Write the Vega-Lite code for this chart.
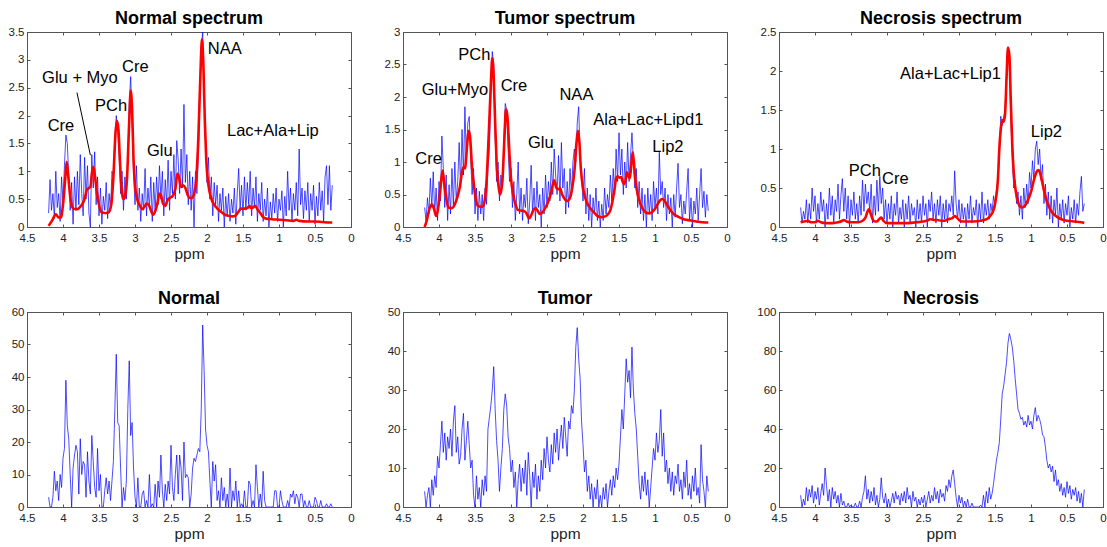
{
"$schema": "https://vega.github.io/schema/vega-lite/v6.json",
"padding": {"left": 7, "top": 9, "right": 2, "bottom": 2},
"background": "white",
"config": {
  "view": {"stroke": "#555"},
  "title": {"font": "Liberation Sans", "fontSize": 18, "fontWeight": "bold", "color": "#000", "offset": -2},
  "axis": {"grid": false, "tickSize": -3, "domainColor": "#555", "tickColor": "#555", "labelFont": "Liberation Sans", "labelFontSize": 11.5, "labelColor": "#222", "titleFont": "Liberation Sans", "titleFontSize": 15.5, "titleFontWeight": "normal", "titleColor": "#222", "labelFlush": false, "labelOverlap": false},
  "axisX": {"labelPadding": 8, "titlePadding": 3},
  "axisY": {"labelPadding": 6},
  "text": {"font": "Liberation Sans", "fontSize": 16.5, "color": "#000"}
},
"datasets": {
"a": [{"x":4.2,"y":0.25},{"x":4.18,"y":0.85},{"x":4.16,"y":0.3},{"x":4.14,"y":0.6},{"x":4.12,"y":0.15},{"x":4.1,"y":1},{"x":4.08,"y":0.35},{"x":4.06,"y":0.6},{"x":4.04,"y":0.1},{"x":4.02,"y":0.9},
{"x":4,"y":0.45},{"x":3.98,"y":1.1},{"x":3.96,"y":1.65},{"x":3.94,"y":1.5},{"x":3.92,"y":0.9},{"x":3.9,"y":0.3},{"x":3.88,"y":0.8},{"x":3.86,"y":0.05},{"x":3.84,"y":0.9},{"x":3.82,"y":0.3},
{"x":3.8,"y":1},{"x":3.78,"y":0.4},{"x":3.76,"y":1.3},{"x":3.74,"y":0.6},{"x":3.72,"y":0.2},{"x":3.7,"y":1.25},{"x":3.68,"y":0.5},{"x":3.66,"y":1.1},{"x":3.64,"y":0.25},{"x":3.62,"y":0},
{"x":3.6,"y":1.3},{"x":3.58,"y":0.7},{"x":3.56,"y":1.35},{"x":3.54,"y":0.4},{"x":3.52,"y":0.9},{"x":3.5,"y":0.2},{"x":3.48,"y":0.7},{"x":3.46,"y":0.05},{"x":3.44,"y":0.55},{"x":3.42,"y":0.3},
{"x":3.4,"y":0.8},{"x":3.38,"y":0.15},{"x":3.36,"y":0.6},{"x":3.34,"y":0.3},{"x":3.32,"y":1},{"x":3.3,"y":0.9},{"x":3.28,"y":1.6},{"x":3.26,"y":2},{"x":3.24,"y":1.7},{"x":3.22,"y":1.3},
{"x":3.2,"y":0.6},{"x":3.18,"y":1},{"x":3.16,"y":0.3},{"x":3.14,"y":0.9},{"x":3.12,"y":0.5},{"x":3.1,"y":1.2},{"x":3.08,"y":2.2},{"x":3.06,"y":2.7},{"x":3.04,"y":1.9},{"x":3.02,"y":1},
{"x":3,"y":0.4},{"x":2.98,"y":1.1},{"x":2.96,"y":0.3},{"x":2.94,"y":0.7},{"x":2.92,"y":0.1},{"x":2.9,"y":0.6},{"x":2.88,"y":0.3},{"x":2.86,"y":1.05},{"x":2.84,"y":0.2},{"x":2.82,"y":0.7},
{"x":2.8,"y":0.35},{"x":2.78,"y":0.9},{"x":2.76,"y":0.1},{"x":2.74,"y":0.8},{"x":2.72,"y":0.3},{"x":2.7,"y":0.9},{"x":2.68,"y":0.4},{"x":2.66,"y":1.1},{"x":2.64,"y":0.5},{"x":2.62,"y":1},
{"x":2.6,"y":0.2},{"x":2.58,"y":0.85},{"x":2.56,"y":0.4},{"x":2.54,"y":1.2},{"x":2.52,"y":0.3},{"x":2.5,"y":1},{"x":2.48,"y":0.6},{"x":2.46,"y":1.3},{"x":2.44,"y":0.5},{"x":2.42,"y":1.55},
{"x":2.4,"y":1.2},{"x":2.38,"y":0.6},{"x":2.36,"y":1.4},{"x":2.34,"y":0.7},{"x":2.32,"y":2.2},{"x":2.3,"y":0.8},{"x":2.28,"y":1.3},{"x":2.26,"y":0.4},{"x":2.24,"y":1},{"x":2.22,"y":0.3},
{"x":2.2,"y":0.9},{"x":2.18,"y":0},{"x":2.16,"y":1},{"x":2.14,"y":0.6},{"x":2.12,"y":1.3},{"x":2.1,"y":2.2},{"x":2.08,"y":3.2},{"x":2.06,"y":3.5},{"x":2.04,"y":2.4},{"x":2.02,"y":1.5},
{"x":2,"y":0.8},{"x":1.98,"y":1.25},{"x":1.96,"y":0.5},{"x":1.94,"y":0.9},{"x":1.92,"y":0.2},{"x":1.9,"y":0.8},{"x":1.88,"y":0.4},{"x":1.86,"y":0.75},{"x":1.84,"y":0.1},{"x":1.82,"y":0.6},
{"x":1.8,"y":0.3},{"x":1.78,"y":0.7},{"x":1.76,"y":0},{"x":1.74,"y":0.55},{"x":1.72,"y":0.2},{"x":1.7,"y":0.6},{"x":1.68,"y":0.1},{"x":1.66,"y":0.5},{"x":1.64,"y":0.25},{"x":1.62,"y":0.7},
{"x":1.6,"y":0.05},{"x":1.58,"y":0.6},{"x":1.56,"y":1.05},{"x":1.54,"y":0.3},{"x":1.52,"y":0.75},{"x":1.5,"y":0.2},{"x":1.48,"y":0.9},{"x":1.46,"y":0.3},{"x":1.44,"y":0.8},{"x":1.42,"y":0.4},
{"x":1.4,"y":1},{"x":1.38,"y":0.2},{"x":1.36,"y":0.7},{"x":1.34,"y":0.35},{"x":1.32,"y":0.9},{"x":1.3,"y":0.1},{"x":1.28,"y":0.6},{"x":1.26,"y":0.3},{"x":1.24,"y":0.8},{"x":1.22,"y":0.1},
{"x":1.2,"y":0.5},{"x":1.18,"y":0.2},{"x":1.16,"y":0.7},{"x":1.14,"y":0},{"x":1.12,"y":0.45},{"x":1.1,"y":0.15},{"x":1.08,"y":0.6},{"x":1.06,"y":0.25},{"x":1.04,"y":0.7},{"x":1.02,"y":0.1},
{"x":1,"y":0.5},{"x":0.98,"y":0.3},{"x":0.96,"y":0.65},{"x":0.94,"y":0},{"x":0.92,"y":0.55},{"x":0.9,"y":0.2},{"x":0.88,"y":1},{"x":0.86,"y":0.3},{"x":0.84,"y":0.7},{"x":0.82,"y":0.1},
{"x":0.8,"y":0.6},{"x":0.78,"y":0.3},{"x":0.76,"y":0.8},{"x":0.74,"y":0.2},{"x":0.72,"y":1.4},{"x":0.7,"y":0.4},{"x":0.68,"y":0.7},{"x":0.66,"y":0.15},{"x":0.64,"y":0.65},{"x":0.62,"y":0.3},
{"x":0.6,"y":0.8},{"x":0.58,"y":0.1},{"x":0.56,"y":0.6},{"x":0.54,"y":0.3},{"x":0.52,"y":0.75},{"x":0.5,"y":0.05},{"x":0.48,"y":0.55},{"x":0.46,"y":0.2},{"x":0.44,"y":0.8},{"x":0.42,"y":0.3},
{"x":0.4,"y":0.65},{"x":0.38,"y":0.1},{"x":0.36,"y":0.9},{"x":0.34,"y":1.1},{"x":0.32,"y":0.4},{"x":0.3,"y":1.1},{"x":0.28,"y":0.3},{"x":0.26,"y":0.75}],
"b": [{"x":4.2,"y":0.3},{"x":4.18,"y":0.1},{"x":4.16,"y":0.45},{"x":4.14,"y":0.2},{"x":4.12,"y":0.75},{"x":4.1,"y":0.3},{"x":4.08,"y":0.85},{"x":4.06,"y":0.2},{"x":4.04,"y":0.6},{"x":4.02,"y":0.1},
{"x":4,"y":0.7},{"x":3.98,"y":0.4},{"x":3.96,"y":1.4},{"x":3.94,"y":0.9},{"x":3.92,"y":0.3},{"x":3.9,"y":0.8},{"x":3.88,"y":0.1},{"x":3.86,"y":0.65},{"x":3.84,"y":0.2},{"x":3.82,"y":0.9},
{"x":3.8,"y":0.3},{"x":3.78,"y":1},{"x":3.76,"y":0.4},{"x":3.74,"y":0.7},{"x":3.72,"y":1.3},{"x":3.7,"y":0.6},{"x":3.68,"y":1.5},{"x":3.66,"y":0.8},{"x":3.64,"y":1.85},{"x":3.62,"y":1},
{"x":3.6,"y":1.6},{"x":3.58,"y":1.7},{"x":3.56,"y":1.1},{"x":3.54,"y":0.5},{"x":3.52,"y":0.9},{"x":3.5,"y":0.2},{"x":3.48,"y":0.6},{"x":3.46,"y":0.1},{"x":3.44,"y":0.55},{"x":3.42,"y":0.2},
{"x":3.4,"y":0.5},{"x":3.38,"y":0.1},{"x":3.36,"y":0.6},{"x":3.34,"y":0.35},{"x":3.32,"y":0.9},{"x":3.3,"y":1.2},{"x":3.28,"y":2},{"x":3.26,"y":2.7},{"x":3.24,"y":2.5},{"x":3.22,"y":1.4},
{"x":3.2,"y":0.7},{"x":3.18,"y":1},{"x":3.16,"y":0.4},{"x":3.14,"y":0.8},{"x":3.12,"y":0.6},{"x":3.1,"y":1.3},{"x":3.08,"y":1.9},{"x":3.06,"y":1.8},{"x":3.04,"y":1.2},{"x":3.02,"y":0.7},
{"x":3,"y":0.9},{"x":2.98,"y":0.3},{"x":2.96,"y":0.7},{"x":2.94,"y":0.1},{"x":2.92,"y":0.5},{"x":2.9,"y":1},{"x":2.88,"y":0.2},{"x":2.86,"y":0.6},{"x":2.84,"y":0.1},{"x":2.82,"y":0.5},
{"x":2.8,"y":0.3},{"x":2.78,"y":0.75},{"x":2.76,"y":0.05},{"x":2.74,"y":0.4},{"x":2.72,"y":0.95},{"x":2.7,"y":0.2},{"x":2.68,"y":0.6},{"x":2.66,"y":0.1},{"x":2.64,"y":0.7},{"x":2.62,"y":0.3},
{"x":2.6,"y":0.5},{"x":2.58,"y":0},{"x":2.56,"y":0.6},{"x":2.54,"y":0.2},{"x":2.52,"y":0.8},{"x":2.5,"y":0.3},{"x":2.48,"y":0.7},{"x":2.46,"y":0.4},{"x":2.44,"y":1},{"x":2.42,"y":0.5},
{"x":2.4,"y":1.2},{"x":2.38,"y":0.8},{"x":2.36,"y":0.5},{"x":2.34,"y":1.1},{"x":2.32,"y":0.4},{"x":2.3,"y":1.3},{"x":2.28,"y":0.6},{"x":2.26,"y":0.9},{"x":2.24,"y":0.2},{"x":2.22,"y":0.7},
{"x":2.2,"y":0.3},{"x":2.18,"y":0.9},{"x":2.16,"y":0.5},{"x":2.14,"y":1},{"x":2.12,"y":1.2},{"x":2.1,"y":1},{"x":2.08,"y":1.6},{"x":2.06,"y":1.85},{"x":2.04,"y":1.1},{"x":2.02,"y":0.8},
{"x":2,"y":0.4},{"x":1.98,"y":0.9},{"x":1.96,"y":0.2},{"x":1.94,"y":0.6},{"x":1.92,"y":0.1},{"x":1.9,"y":0.5},{"x":1.88,"y":0},{"x":1.86,"y":0.45},{"x":1.84,"y":0.2},{"x":1.82,"y":0.6},
{"x":1.8,"y":0.1},{"x":1.78,"y":0.4},{"x":1.76,"y":0},{"x":1.74,"y":0.35},{"x":1.72,"y":0.1},{"x":1.7,"y":0.6},{"x":1.68,"y":0.2},{"x":1.66,"y":0.5},{"x":1.64,"y":0.3},{"x":1.62,"y":0.8},
{"x":1.6,"y":0.4},{"x":1.58,"y":0.9},{"x":1.56,"y":0.5},{"x":1.54,"y":1.2},{"x":1.52,"y":0.7},{"x":1.5,"y":1.45},{"x":1.48,"y":0.8},{"x":1.46,"y":1.2},{"x":1.44,"y":0.5},{"x":1.42,"y":1},
{"x":1.4,"y":0.6},{"x":1.38,"y":1.3},{"x":1.36,"y":0.7},{"x":1.34,"y":1.1},{"x":1.32,"y":1.45},{"x":1.3,"y":1},{"x":1.28,"y":0.6},{"x":1.26,"y":0.9},{"x":1.24,"y":0.3},{"x":1.22,"y":0.7},
{"x":1.2,"y":0.2},{"x":1.18,"y":0.6},{"x":1.16,"y":0.1},{"x":1.14,"y":0.5},{"x":1.12,"y":0},{"x":1.1,"y":0.6},{"x":1.08,"y":0.2},{"x":1.06,"y":0.5},{"x":1.04,"y":0.1},{"x":1.02,"y":0.7},
{"x":1,"y":0.3},{"x":0.98,"y":0.6},{"x":0.96,"y":0.2},{"x":0.94,"y":1.15},{"x":0.92,"y":0.5},{"x":0.9,"y":0.7},{"x":0.88,"y":0.3},{"x":0.86,"y":0.6},{"x":0.84,"y":0.1},{"x":0.82,"y":0.5},
{"x":0.8,"y":0.2},{"x":0.78,"y":0.45},{"x":0.76,"y":0},{"x":0.74,"y":0.5},{"x":0.72,"y":0.15},{"x":0.7,"y":0.6},{"x":0.68,"y":0.98},{"x":0.66,"y":0.3},{"x":0.64,"y":0.5},{"x":0.62,"y":0.05},
{"x":0.6,"y":0.4},{"x":0.58,"y":0.2},{"x":0.56,"y":0.55},{"x":0.54,"y":0.9},{"x":0.52,"y":0.1},{"x":0.5,"y":0.45},{"x":0.48,"y":0},{"x":0.46,"y":0.4},{"x":0.44,"y":0.2},{"x":0.42,"y":0.6},
{"x":0.4,"y":0.1},{"x":0.38,"y":0.5},{"x":0.36,"y":0.9},{"x":0.34,"y":0.3},{"x":0.32,"y":0.55},{"x":0.3,"y":0.15},{"x":0.28,"y":0.5},{"x":0.26,"y":0.25}],
"c": [{"x":4.2,"y":0.25},{"x":4.18,"y":0.05},{"x":4.16,"y":0.2},{"x":4.14,"y":0.1},{"x":4.12,"y":0.35},{"x":4.1,"y":0.05},{"x":4.08,"y":0.3},{"x":4.06,"y":0.1},{"x":4.04,"y":0.5},{"x":4.02,"y":0.2},
{"x":4,"y":0.4},{"x":3.98,"y":0.05},{"x":3.96,"y":0.3},{"x":3.94,"y":0.1},{"x":3.92,"y":0.45},{"x":3.9,"y":0.2},{"x":3.88,"y":0.35},{"x":3.86,"y":0},{"x":3.84,"y":0.3},{"x":3.82,"y":0.1},
{"x":3.8,"y":0.5},{"x":3.78,"y":0.15},{"x":3.76,"y":0.4},{"x":3.74,"y":0.05},{"x":3.72,"y":0.35},{"x":3.7,"y":0.2},{"x":3.68,"y":0.55},{"x":3.66,"y":0.1},{"x":3.64,"y":0.4},{"x":3.62,"y":0.62},
{"x":3.6,"y":0.2},{"x":3.58,"y":0.5},{"x":3.56,"y":0.1},{"x":3.54,"y":0.4},{"x":3.52,"y":0},{"x":3.5,"y":0.35},{"x":3.48,"y":0.15},{"x":3.46,"y":0.45},{"x":3.44,"y":0.1},{"x":3.42,"y":0.3},
{"x":3.4,"y":0.05},{"x":3.38,"y":0.4},{"x":3.36,"y":0.15},{"x":3.34,"y":0.6},{"x":3.32,"y":0.2},{"x":3.3,"y":0.55},{"x":3.28,"y":0.3},{"x":3.26,"y":0.45},{"x":3.24,"y":0.2},{"x":3.22,"y":0.55},
{"x":3.2,"y":0.05},{"x":3.18,"y":0.4},{"x":3.16,"y":0.15},{"x":3.14,"y":0.6},{"x":3.12,"y":0.2},{"x":3.1,"y":0.65},{"x":3.08,"y":0.3},{"x":3.06,"y":0.5},{"x":3.04,"y":0.1},{"x":3.02,"y":0.35},
{"x":3,"y":0.05},{"x":2.98,"y":0.3},{"x":2.96,"y":0.1},{"x":2.94,"y":0.4},{"x":2.92,"y":0},{"x":2.9,"y":0.3},{"x":2.88,"y":0.15},{"x":2.86,"y":0.45},{"x":2.84,"y":0.05},{"x":2.82,"y":0.25},
{"x":2.8,"y":0.1},{"x":2.78,"y":0.35},{"x":2.76,"y":0},{"x":2.74,"y":0.3},{"x":2.72,"y":0.1},{"x":2.7,"y":0.4},{"x":2.68,"y":0.05},{"x":2.66,"y":0.3},{"x":2.64,"y":0.15},{"x":2.62,"y":0.25},
{"x":2.6,"y":0},{"x":2.58,"y":0.35},{"x":2.56,"y":0.1},{"x":2.54,"y":0.3},{"x":2.52,"y":0.05},{"x":2.5,"y":0.4},{"x":2.48,"y":0.15},{"x":2.46,"y":0.3},{"x":2.44,"y":0},{"x":2.42,"y":0.35},
{"x":2.4,"y":0.2},{"x":2.38,"y":0.45},{"x":2.36,"y":0.1},{"x":2.34,"y":0.3},{"x":2.32,"y":0.05},{"x":2.3,"y":0.35},{"x":2.28,"y":0.15},{"x":2.26,"y":0.4},{"x":2.24,"y":0},{"x":2.22,"y":0.3},
{"x":2.2,"y":0.1},{"x":2.18,"y":0.35},{"x":2.16,"y":0.05},{"x":2.14,"y":0.3},{"x":2.12,"y":0.2},{"x":2.1,"y":0.4},{"x":2.08,"y":0.15},{"x":2.06,"y":0.72},{"x":2.04,"y":0.3},{"x":2.02,"y":0.1},
{"x":2,"y":0.35},{"x":1.98,"y":0.05},{"x":1.96,"y":0.3},{"x":1.94,"y":0.1},{"x":1.92,"y":0.25},{"x":1.9,"y":0},{"x":1.88,"y":0.3},{"x":1.86,"y":0.1},{"x":1.84,"y":0.4},{"x":1.82,"y":0.05},
{"x":1.8,"y":0.25},{"x":1.78,"y":0.15},{"x":1.76,"y":0.35},{"x":1.74,"y":0},{"x":1.72,"y":0.3},{"x":1.7,"y":0.1},{"x":1.68,"y":0.45},{"x":1.66,"y":0.05},{"x":1.64,"y":0.3},{"x":1.62,"y":0.15},
{"x":1.6,"y":0.35},{"x":1.58,"y":0.1},{"x":1.56,"y":0.3},{"x":1.54,"y":0.2},{"x":1.52,"y":0.4},{"x":1.5,"y":0.25},{"x":1.48,"y":0.45},{"x":1.46,"y":0.6},{"x":1.44,"y":0.9},{"x":1.42,"y":1.42},
{"x":1.4,"y":1.3},{"x":1.38,"y":1.4},{"x":1.36,"y":1.5},{"x":1.34,"y":2},{"x":1.32,"y":2.25},{"x":1.3,"y":2.1},{"x":1.28,"y":1.4},{"x":1.26,"y":0.9},{"x":1.24,"y":0.5},{"x":1.22,"y":0.6},
{"x":1.2,"y":0.3},{"x":1.18,"y":0.45},{"x":1.16,"y":0.15},{"x":1.14,"y":0.4},{"x":1.12,"y":0.1},{"x":1.1,"y":0.5},{"x":1.08,"y":0.25},{"x":1.06,"y":0.55},{"x":1.04,"y":0.3},{"x":1.02,"y":0.7},
{"x":1,"y":0.5},{"x":0.98,"y":0.85},{"x":0.96,"y":0.6},{"x":0.94,"y":1},{"x":0.92,"y":1.1},{"x":0.9,"y":0.8},{"x":0.88,"y":1},{"x":0.86,"y":0.6},{"x":0.84,"y":0.8},{"x":0.82,"y":0.3},
{"x":0.8,"y":0.55},{"x":0.78,"y":0.15},{"x":0.76,"y":0.45},{"x":0.74,"y":0.1},{"x":0.72,"y":0.4},{"x":0.7,"y":0.05},{"x":0.68,"y":0.35},{"x":0.66,"y":0.15},{"x":0.64,"y":0.5},{"x":0.62,"y":0},
{"x":0.6,"y":0.3},{"x":0.58,"y":0.1},{"x":0.56,"y":0.35},{"x":0.54,"y":0.05},{"x":0.52,"y":0.3},{"x":0.5,"y":0.15},{"x":0.48,"y":0.4},{"x":0.46,"y":0},{"x":0.44,"y":0.25},{"x":0.42,"y":0.1},
{"x":0.4,"y":0.35},{"x":0.38,"y":0.05},{"x":0.36,"y":0.3},{"x":0.34,"y":0.15},{"x":0.32,"y":0.45},{"x":0.3,"y":0.65},{"x":0.28,"y":0.2},{"x":0.26,"y":0.3}],
"d": [{"x":4.2,"y":3},{"x":4.18,"y":0},{"x":4.16,"y":0},{"x":4.14,"y":3},{"x":4.12,"y":11},{"x":4.1,"y":5},{"x":4.08,"y":8},{"x":4.06,"y":2},{"x":4.04,"y":10},{"x":4.02,"y":6},
{"x":4,"y":15},{"x":3.98,"y":18},{"x":3.96,"y":39},{"x":3.94,"y":25},{"x":3.92,"y":21},{"x":3.9,"y":10},{"x":3.88,"y":0},{"x":3.86,"y":12},{"x":3.84,"y":16},{"x":3.82,"y":19},
{"x":3.8,"y":17},{"x":3.78,"y":4},{"x":3.76,"y":21},{"x":3.74,"y":10},{"x":3.72,"y":14},{"x":3.7,"y":13},{"x":3.68,"y":3},{"x":3.66,"y":17},{"x":3.64,"y":8},{"x":3.62,"y":4},
{"x":3.6,"y":22},{"x":3.58,"y":14},{"x":3.56,"y":6},{"x":3.54,"y":3},{"x":3.52,"y":18},{"x":3.5,"y":5},{"x":3.48,"y":10},{"x":3.46,"y":0},{"x":3.44,"y":0},{"x":3.42,"y":5},
{"x":3.4,"y":9},{"x":3.38,"y":4},{"x":3.36,"y":8},{"x":3.34,"y":2},{"x":3.32,"y":8},{"x":3.3,"y":14},{"x":3.28,"y":30},{"x":3.26,"y":47},{"x":3.24,"y":26},{"x":3.22,"y":25},
{"x":3.2,"y":12},{"x":3.18,"y":0},{"x":3.16,"y":6},{"x":3.14,"y":2},{"x":3.12,"y":8},{"x":3.1,"y":30},{"x":3.08,"y":45},{"x":3.06,"y":22},{"x":3.04,"y":26},{"x":3.02,"y":12},
{"x":3,"y":3},{"x":2.98,"y":0},{"x":2.96,"y":9},{"x":2.94,"y":0},{"x":2.92,"y":0},{"x":2.9,"y":4},{"x":2.88,"y":5},{"x":2.86,"y":0},{"x":2.84,"y":2},{"x":2.82,"y":0},
{"x":2.8,"y":10},{"x":2.78,"y":0},{"x":2.76,"y":1},{"x":2.74,"y":0},{"x":2.72,"y":7},{"x":2.7,"y":0},{"x":2.68,"y":8},{"x":2.66,"y":3},{"x":2.64,"y":16},{"x":2.62,"y":5},
{"x":2.6,"y":0},{"x":2.58,"y":7},{"x":2.56,"y":2},{"x":2.54,"y":8},{"x":2.52,"y":4},{"x":2.5,"y":19},{"x":2.48,"y":6},{"x":2.46,"y":2},{"x":2.44,"y":10},{"x":2.42,"y":16},
{"x":2.4,"y":4},{"x":2.38,"y":16},{"x":2.36,"y":12},{"x":2.34,"y":2},{"x":2.32,"y":20},{"x":2.3,"y":9},{"x":2.28,"y":10},{"x":2.26,"y":9},{"x":2.24,"y":0},{"x":2.22,"y":4},
{"x":2.2,"y":12},{"x":2.18,"y":15},{"x":2.16,"y":14},{"x":2.14,"y":16},{"x":2.12,"y":18},{"x":2.1,"y":17},{"x":2.08,"y":30},{"x":2.06,"y":56},{"x":2.04,"y":42},{"x":2.02,"y":24},
{"x":2,"y":19},{"x":1.98,"y":17},{"x":1.96,"y":8},{"x":1.94,"y":0},{"x":1.92,"y":14},{"x":1.9,"y":8},{"x":1.88,"y":13},{"x":1.86,"y":2},{"x":1.84,"y":5},{"x":1.82,"y":0},
{"x":1.8,"y":9},{"x":1.78,"y":2},{"x":1.76,"y":6},{"x":1.74,"y":0},{"x":1.72,"y":4},{"x":1.7,"y":0},{"x":1.68,"y":12},{"x":1.66,"y":0},{"x":1.64,"y":5},{"x":1.62,"y":2},
{"x":1.6,"y":8},{"x":1.58,"y":0},{"x":1.56,"y":5},{"x":1.54,"y":0},{"x":1.52,"y":1},{"x":1.5,"y":0},{"x":1.48,"y":5},{"x":1.46,"y":0},{"x":1.44,"y":0},{"x":1.42,"y":8},
{"x":1.4,"y":7},{"x":1.38,"y":0},{"x":1.36,"y":2},{"x":1.34,"y":0},{"x":1.32,"y":13},{"x":1.3,"y":6},{"x":1.28,"y":0},{"x":1.26,"y":4},{"x":1.24,"y":0},{"x":1.22,"y":11},
{"x":1.2,"y":2},{"x":1.18,"y":0},{"x":1.16,"y":0},{"x":1.14,"y":0},{"x":1.12,"y":0},{"x":1.1,"y":0},{"x":1.08,"y":0},{"x":1.06,"y":5},{"x":1.04,"y":5},{"x":1.02,"y":0},
{"x":1,"y":0},{"x":0.98,"y":5},{"x":0.96,"y":2},{"x":0.94,"y":0},{"x":0.92,"y":0},{"x":0.9,"y":0},{"x":0.88,"y":2},{"x":0.86,"y":0},{"x":0.84,"y":4},{"x":0.82,"y":3},
{"x":0.8,"y":5},{"x":0.78,"y":1},{"x":0.76,"y":4},{"x":0.74,"y":3},{"x":0.72,"y":0},{"x":0.7,"y":4},{"x":0.68,"y":4},{"x":0.66,"y":0},{"x":0.64,"y":2},{"x":0.62,"y":0},
{"x":0.6,"y":0},{"x":0.58,"y":2},{"x":0.56,"y":0},{"x":0.54,"y":0},{"x":0.52,"y":0},{"x":0.5,"y":3},{"x":0.48,"y":2},{"x":0.46,"y":0},{"x":0.44,"y":0},{"x":0.42,"y":2},
{"x":0.4,"y":0},{"x":0.38,"y":0},{"x":0.36,"y":0},{"x":0.34,"y":1},{"x":0.32,"y":0},{"x":0.3,"y":0},{"x":0.28,"y":1},{"x":0.26,"y":0}],
"e": [{"x":4.2,"y":4},{"x":4.18,"y":0},{"x":4.16,"y":3},{"x":4.14,"y":5},{"x":4.12,"y":0},{"x":4.1,"y":7},{"x":4.08,"y":3},{"x":4.06,"y":8},{"x":4.04,"y":5},{"x":4.02,"y":13},
{"x":4,"y":10},{"x":3.98,"y":16},{"x":3.96,"y":22},{"x":3.94,"y":14},{"x":3.92,"y":19},{"x":3.9,"y":12},{"x":3.88,"y":18},{"x":3.86,"y":15},{"x":3.84,"y":20},{"x":3.82,"y":13},
{"x":3.8,"y":22},{"x":3.78,"y":26},{"x":3.76,"y":14},{"x":3.74,"y":18},{"x":3.72,"y":11},{"x":3.7,"y":13},{"x":3.68,"y":20},{"x":3.66,"y":24},{"x":3.64,"y":12},{"x":3.62,"y":17},
{"x":3.6,"y":22},{"x":3.58,"y":16},{"x":3.56,"y":10},{"x":3.54,"y":12},{"x":3.52,"y":3},{"x":3.5,"y":0},{"x":3.48,"y":8},{"x":3.46,"y":2},{"x":3.44,"y":5},{"x":3.42,"y":0},
{"x":3.4,"y":7},{"x":3.38,"y":3},{"x":3.36,"y":8},{"x":3.34,"y":4},{"x":3.32,"y":20},{"x":3.3,"y":23},{"x":3.28,"y":26},{"x":3.26,"y":30},{"x":3.24,"y":36},{"x":3.22,"y":25},
{"x":3.2,"y":17},{"x":3.18,"y":12},{"x":3.16,"y":4},{"x":3.14,"y":10},{"x":3.12,"y":15},{"x":3.1,"y":25},{"x":3.08,"y":29},{"x":3.06,"y":26},{"x":3.04,"y":18},{"x":3.02,"y":15},
{"x":3,"y":9},{"x":2.98,"y":12},{"x":2.96,"y":5},{"x":2.94,"y":9},{"x":2.92,"y":0},{"x":2.9,"y":7},{"x":2.88,"y":11},{"x":2.86,"y":4},{"x":2.84,"y":10},{"x":2.82,"y":6},
{"x":2.8,"y":12},{"x":2.78,"y":3},{"x":2.76,"y":14},{"x":2.74,"y":8},{"x":2.72,"y":0},{"x":2.7,"y":9},{"x":2.68,"y":5},{"x":2.66,"y":11},{"x":2.64,"y":2},{"x":2.62,"y":8},
{"x":2.6,"y":4},{"x":2.58,"y":12},{"x":2.56,"y":7},{"x":2.54,"y":15},{"x":2.52,"y":10},{"x":2.5,"y":18},{"x":2.48,"y":12},{"x":2.46,"y":9},{"x":2.44,"y":16},{"x":2.42,"y":11},
{"x":2.4,"y":19},{"x":2.38,"y":14},{"x":2.36,"y":20},{"x":2.34,"y":12},{"x":2.32,"y":17},{"x":2.3,"y":21},{"x":2.28,"y":15},{"x":2.26,"y":23},{"x":2.24,"y":18},{"x":2.22,"y":13},
{"x":2.2,"y":22},{"x":2.18,"y":20},{"x":2.16,"y":26},{"x":2.14,"y":24},{"x":2.12,"y":30},{"x":2.1,"y":41},{"x":2.08,"y":46},{"x":2.06,"y":38},{"x":2.04,"y":33},{"x":2.02,"y":22},
{"x":2,"y":16},{"x":1.98,"y":9},{"x":1.96,"y":12},{"x":1.94,"y":4},{"x":1.92,"y":8},{"x":1.9,"y":2},{"x":1.88,"y":6},{"x":1.86,"y":0},{"x":1.84,"y":5},{"x":1.82,"y":2},
{"x":1.8,"y":7},{"x":1.78,"y":0},{"x":1.76,"y":3},{"x":1.74,"y":0},{"x":1.72,"y":5},{"x":1.7,"y":2},{"x":1.68,"y":6},{"x":1.66,"y":0},{"x":1.64,"y":4},{"x":1.62,"y":7},
{"x":1.6,"y":3},{"x":1.58,"y":8},{"x":1.56,"y":5},{"x":1.54,"y":10},{"x":1.52,"y":7},{"x":1.5,"y":11},{"x":1.48,"y":18},{"x":1.46,"y":25},{"x":1.44,"y":20},{"x":1.42,"y":29},
{"x":1.4,"y":38},{"x":1.38,"y":32},{"x":1.36,"y":35},{"x":1.34,"y":28},{"x":1.32,"y":41},{"x":1.3,"y":30},{"x":1.28,"y":24},{"x":1.26,"y":20},{"x":1.24,"y":13},{"x":1.22,"y":6},
{"x":1.2,"y":2},{"x":1.18,"y":8},{"x":1.16,"y":4},{"x":1.14,"y":9},{"x":1.12,"y":3},{"x":1.1,"y":7},{"x":1.08,"y":0},{"x":1.06,"y":5},{"x":1.04,"y":10},{"x":1.02,"y":15},
{"x":1,"y":12},{"x":0.98,"y":19},{"x":0.96,"y":14},{"x":0.94,"y":17},{"x":0.92,"y":25},{"x":0.9,"y":13},{"x":0.88,"y":19},{"x":0.86,"y":9},{"x":0.84,"y":12},{"x":0.82,"y":6},
{"x":0.8,"y":10},{"x":0.78,"y":4},{"x":0.76,"y":9},{"x":0.74,"y":3},{"x":0.72,"y":8},{"x":0.7,"y":6},{"x":0.68,"y":11},{"x":0.66,"y":4},{"x":0.64,"y":7},{"x":0.62,"y":2},
{"x":0.6,"y":9},{"x":0.58,"y":5},{"x":0.56,"y":12},{"x":0.54,"y":3},{"x":0.52,"y":6},{"x":0.5,"y":2},{"x":0.48,"y":8},{"x":0.46,"y":4},{"x":0.44,"y":10},{"x":0.42,"y":3},
{"x":0.4,"y":5},{"x":0.38,"y":1},{"x":0.36,"y":16},{"x":0.34,"y":7},{"x":0.32,"y":4},{"x":0.3,"y":0},{"x":0.28,"y":8},{"x":0.26,"y":4}],
"f": [{"x":4.2,"y":6},{"x":4.18,"y":0},{"x":4.16,"y":4},{"x":4.14,"y":1},{"x":4.12,"y":10},{"x":4.1,"y":3},{"x":4.08,"y":9},{"x":4.06,"y":5},{"x":4.04,"y":11},{"x":4.02,"y":2},
{"x":4,"y":8},{"x":3.98,"y":4},{"x":3.96,"y":10},{"x":3.94,"y":1},{"x":3.92,"y":7},{"x":3.9,"y":12},{"x":3.88,"y":6},{"x":3.86,"y":20},{"x":3.84,"y":11},{"x":3.82,"y":3},
{"x":3.8,"y":9},{"x":3.78,"y":0},{"x":3.76,"y":10},{"x":3.74,"y":4},{"x":3.72,"y":8},{"x":3.7,"y":2},{"x":3.68,"y":6},{"x":3.66,"y":0},{"x":3.64,"y":7},{"x":3.62,"y":1},
{"x":3.6,"y":3},{"x":3.58,"y":0},{"x":3.56,"y":0},{"x":3.54,"y":2},{"x":3.52,"y":0},{"x":3.5,"y":1},{"x":3.48,"y":0},{"x":3.46,"y":0},{"x":3.44,"y":2},{"x":3.42,"y":0},
{"x":3.4,"y":0},{"x":3.38,"y":3},{"x":3.36,"y":0},{"x":3.34,"y":5},{"x":3.32,"y":8},{"x":3.3,"y":16},{"x":3.28,"y":4},{"x":3.26,"y":9},{"x":3.24,"y":2},{"x":3.22,"y":8},
{"x":3.2,"y":3},{"x":3.18,"y":10},{"x":3.16,"y":1},{"x":3.14,"y":6},{"x":3.12,"y":0},{"x":3.1,"y":4},{"x":3.08,"y":15},{"x":3.06,"y":5},{"x":3.04,"y":2},{"x":3.02,"y":7},
{"x":3,"y":0},{"x":2.98,"y":4},{"x":2.96,"y":0},{"x":2.94,"y":3},{"x":2.92,"y":7},{"x":2.9,"y":2},{"x":2.88,"y":8},{"x":2.86,"y":4},{"x":2.84,"y":6},{"x":2.82,"y":1},
{"x":2.8,"y":7},{"x":2.78,"y":3},{"x":2.76,"y":8},{"x":2.74,"y":2},{"x":2.72,"y":10},{"x":2.7,"y":4},{"x":2.68,"y":6},{"x":2.66,"y":0},{"x":2.64,"y":8},{"x":2.62,"y":3},
{"x":2.6,"y":5},{"x":2.58,"y":0},{"x":2.56,"y":4},{"x":2.54,"y":1},{"x":2.52,"y":5},{"x":2.5,"y":2},{"x":2.48,"y":6},{"x":2.46,"y":0},{"x":2.44,"y":4},{"x":2.42,"y":8},
{"x":2.4,"y":2},{"x":2.38,"y":6},{"x":2.36,"y":3},{"x":2.34,"y":10},{"x":2.32,"y":4},{"x":2.3,"y":8},{"x":2.28,"y":2},{"x":2.26,"y":9},{"x":2.24,"y":5},{"x":2.22,"y":7},
{"x":2.2,"y":3},{"x":2.18,"y":11},{"x":2.16,"y":8},{"x":2.14,"y":14},{"x":2.12,"y":10},{"x":2.1,"y":16},{"x":2.08,"y":19},{"x":2.06,"y":12},{"x":2.04,"y":5},{"x":2.02,"y":0},
{"x":2,"y":6},{"x":1.98,"y":2},{"x":1.96,"y":5},{"x":1.94,"y":0},{"x":1.92,"y":3},{"x":1.9,"y":0},{"x":1.88,"y":4},{"x":1.86,"y":0},{"x":1.84,"y":0},{"x":1.82,"y":2},
{"x":1.8,"y":0},{"x":1.78,"y":0},{"x":1.76,"y":0},{"x":1.74,"y":0},{"x":1.72,"y":0},{"x":1.7,"y":1},{"x":1.68,"y":0},{"x":1.66,"y":6},{"x":1.64,"y":0},{"x":1.62,"y":8},
{"x":1.6,"y":2},{"x":1.58,"y":10},{"x":1.56,"y":4},{"x":1.54,"y":7},{"x":1.52,"y":12},{"x":1.5,"y":18},{"x":1.48,"y":24},{"x":1.46,"y":28},{"x":1.44,"y":33},{"x":1.42,"y":45},
{"x":1.4,"y":58},{"x":1.38,"y":62},{"x":1.36,"y":68},{"x":1.34,"y":74},{"x":1.32,"y":84},{"x":1.3,"y":89},{"x":1.28,"y":86},{"x":1.26,"y":82},{"x":1.24,"y":75},{"x":1.22,"y":66},
{"x":1.2,"y":58},{"x":1.18,"y":50},{"x":1.16,"y":48},{"x":1.14,"y":45},{"x":1.12,"y":46},{"x":1.1,"y":42},{"x":1.08,"y":44},{"x":1.06,"y":41},{"x":1.04,"y":47},{"x":1.02,"y":42},
{"x":1,"y":44},{"x":0.98,"y":40},{"x":0.96,"y":47},{"x":0.94,"y":51},{"x":0.92,"y":44},{"x":0.9,"y":47},{"x":0.88,"y":45},{"x":0.86,"y":42},{"x":0.84,"y":37},{"x":0.82,"y":36},
{"x":0.8,"y":31},{"x":0.78,"y":24},{"x":0.76,"y":20},{"x":0.74,"y":22},{"x":0.72,"y":18},{"x":0.7,"y":21},{"x":0.68,"y":13},{"x":0.66,"y":19},{"x":0.64,"y":11},{"x":0.62,"y":14},
{"x":0.6,"y":8},{"x":0.58,"y":12},{"x":0.56,"y":6},{"x":0.54,"y":10},{"x":0.52,"y":5},{"x":0.5,"y":13},{"x":0.48,"y":7},{"x":0.46,"y":11},{"x":0.44,"y":4},{"x":0.42,"y":9},
{"x":0.4,"y":6},{"x":0.38,"y":10},{"x":0.36,"y":3},{"x":0.34,"y":8},{"x":0.32,"y":2},{"x":0.3,"y":7},{"x":0.28,"y":0},{"x":0.26,"y":9}],
"r1": [{"x":4.2,"y":0.02},{"x":4.15,"y":0.12},{"x":4.1,"y":0.23},{"x":4.06,"y":0.17},{"x":4.03,"y":0.17},{"x":4,"y":0.4},{"x":3.97,"y":0.85},{"x":3.95,"y":1.17},{"x":3.93,"y":0.95},{"x":3.9,"y":0.55},{"x":3.87,"y":0.35},{"x":3.83,"y":0.32},{"x":3.8,"y":0.32},{"x":3.75,"y":0.38},{"x":3.7,"y":0.5},{"x":3.67,"y":0.66},{"x":3.64,"y":0.7},{"x":3.62,"y":0.72},{"x":3.6,"y":0.95},{"x":3.58,"y":1.08},{"x":3.56,"y":0.95},{"x":3.53,"y":0.62},{"x":3.5,"y":0.4},{"x":3.47,"y":0.27},{"x":3.42,"y":0.25},{"x":3.37,"y":0.26},{"x":3.33,"y":0.4},{"x":3.3,"y":0.9},{"x":3.27,"y":1.7},{"x":3.25,"y":1.9},{"x":3.23,"y":1.75},{"x":3.21,"y":1.2},{"x":3.18,"y":0.6},{"x":3.16,"y":0.5},{"x":3.14,"y":0.55},{"x":3.11,"y":0.9},{"x":3.08,"y":1.9},{"x":3.06,"y":2.45},{"x":3.04,"y":2.1},{"x":3.02,"y":1.2},{"x":3,"y":0.75},{"x":2.97,"y":0.5},{"x":2.93,"y":0.38},{"x":2.9,"y":0.32},{"x":2.87,"y":0.36},{"x":2.84,"y":0.42},{"x":2.81,"y":0.4},{"x":2.78,"y":0.3},{"x":2.75,"y":0.22},{"x":2.72,"y":0.28},{"x":2.69,"y":0.42},{"x":2.66,"y":0.6},{"x":2.64,"y":0.57},{"x":2.61,"y":0.42},{"x":2.58,"y":0.38},{"x":2.55,"y":0.48},{"x":2.52,"y":0.52},{"x":2.48,"y":0.55},{"x":2.44,"y":0.68},{"x":2.41,"y":0.96},{"x":2.39,"y":0.9},{"x":2.36,"y":0.72},{"x":2.33,"y":0.75},{"x":2.3,"y":0.7},{"x":2.27,"y":0.58},{"x":2.24,"y":0.52},{"x":2.21,"y":0.52},{"x":2.18,"y":0.6},{"x":2.15,"y":0.85},{"x":2.12,"y":1.6},{"x":2.09,"y":2.8},{"x":2.07,"y":3.37},{"x":2.05,"y":2.9},{"x":2.03,"y":1.9},{"x":2.01,"y":1.2},{"x":1.98,"y":0.75},{"x":1.95,"y":0.55},{"x":1.9,"y":0.4},{"x":1.85,"y":0.32},{"x":1.8,"y":0.27},{"x":1.75,"y":0.22},{"x":1.7,"y":0.2},{"x":1.65,"y":0.19},{"x":1.6,"y":0.21},{"x":1.56,"y":0.28},{"x":1.53,"y":0.33},{"x":1.48,"y":0.33},{"x":1.44,"y":0.34},{"x":1.41,"y":0.38},{"x":1.39,"y":0.34},{"x":1.36,"y":0.35},{"x":1.33,"y":0.38},{"x":1.3,"y":0.32},{"x":1.26,"y":0.25},{"x":1.22,"y":0.18},{"x":1.18,"y":0.15},{"x":1.1,"y":0.14},{"x":1,"y":0.13},{"x":0.9,"y":0.12},{"x":0.8,"y":0.11},{"x":0.76,"y":0.13},{"x":0.72,"y":0.11},{"x":0.6,"y":0.1},{"x":0.5,"y":0.1},{"x":0.4,"y":0.09},{"x":0.3,"y":0.08},{"x":0.26,"y":0.08}],
"r2": [{"x":4.2,"y":0},{"x":4.17,"y":0.1},{"x":4.14,"y":0.25},{"x":4.1,"y":0.35},{"x":4.07,"y":0.28},{"x":4.04,"y":0.17},{"x":4.01,"y":0.3},{"x":3.98,"y":0.6},{"x":3.95,"y":0.87},{"x":3.93,"y":0.7},{"x":3.9,"y":0.45},{"x":3.87,"y":0.3},{"x":3.82,"y":0.29},{"x":3.78,"y":0.35},{"x":3.74,"y":0.48},{"x":3.71,"y":0.62},{"x":3.68,"y":0.85},{"x":3.66,"y":0.92},{"x":3.64,"y":0.9},{"x":3.61,"y":1.25},{"x":3.59,"y":1.48},{"x":3.57,"y":1.4},{"x":3.54,"y":0.9},{"x":3.51,"y":0.6},{"x":3.48,"y":0.38},{"x":3.45,"y":0.32},{"x":3.4,"y":0.31},{"x":3.37,"y":0.38},{"x":3.34,"y":0.7},{"x":3.31,"y":1.4},{"x":3.28,"y":2.2},{"x":3.26,"y":2.6},{"x":3.24,"y":2.3},{"x":3.22,"y":1.6},{"x":3.2,"y":1},{"x":3.17,"y":0.6},{"x":3.15,"y":0.5},{"x":3.12,"y":0.7},{"x":3.09,"y":1.4},{"x":3.07,"y":1.81},{"x":3.05,"y":1.7},{"x":3.02,"y":1.1},{"x":3,"y":0.75},{"x":2.97,"y":0.5},{"x":2.94,"y":0.36},{"x":2.9,"y":0.26},{"x":2.85,"y":0.25},{"x":2.81,"y":0.24},{"x":2.78,"y":0.2},{"x":2.75,"y":0.13},{"x":2.72,"y":0.18},{"x":2.69,"y":0.26},{"x":2.66,"y":0.29},{"x":2.63,"y":0.25},{"x":2.6,"y":0.2},{"x":2.56,"y":0.23},{"x":2.52,"y":0.3},{"x":2.48,"y":0.4},{"x":2.45,"y":0.5},{"x":2.42,"y":0.65},{"x":2.4,"y":0.72},{"x":2.37,"y":0.6},{"x":2.34,"y":0.58},{"x":2.32,"y":0.6},{"x":2.29,"y":0.5},{"x":2.26,"y":0.44},{"x":2.22,"y":0.4},{"x":2.18,"y":0.45},{"x":2.15,"y":0.6},{"x":2.12,"y":0.85},{"x":2.09,"y":1.3},{"x":2.07,"y":1.48},{"x":2.05,"y":1.3},{"x":2.03,"y":0.9},{"x":2,"y":0.6},{"x":1.97,"y":0.45},{"x":1.92,"y":0.32},{"x":1.86,"y":0.24},{"x":1.8,"y":0.17},{"x":1.75,"y":0.15},{"x":1.7,"y":0.16},{"x":1.65,"y":0.2},{"x":1.62,"y":0.26},{"x":1.59,"y":0.4},{"x":1.56,"y":0.6},{"x":1.54,"y":0.75},{"x":1.52,"y":0.78},{"x":1.49,"y":0.76},{"x":1.47,"y":0.77},{"x":1.45,"y":0.7},{"x":1.43,"y":0.66},{"x":1.41,"y":0.72},{"x":1.39,"y":0.84},{"x":1.37,"y":0.78},{"x":1.35,"y":0.75},{"x":1.33,"y":0.95},{"x":1.31,"y":1.15},{"x":1.29,"y":0.95},{"x":1.27,"y":0.7},{"x":1.24,"y":0.5},{"x":1.2,"y":0.35},{"x":1.16,"y":0.26},{"x":1.12,"y":0.22},{"x":1.08,"y":0.21},{"x":1.04,"y":0.23},{"x":1,"y":0.28},{"x":0.96,"y":0.36},{"x":0.92,"y":0.42},{"x":0.9,"y":0.43},{"x":0.87,"y":0.41},{"x":0.84,"y":0.35},{"x":0.8,"y":0.28},{"x":0.75,"y":0.21},{"x":0.7,"y":0.17},{"x":0.6,"y":0.12},{"x":0.5,"y":0.1},{"x":0.4,"y":0.08},{"x":0.3,"y":0.07},{"x":0.26,"y":0.07}],
"r3": [{"x":4.2,"y":0.06},{"x":4.15,"y":0.07},{"x":4.1,"y":0.08},{"x":4.05,"y":0.06},{"x":4,"y":0.06},{"x":3.96,"y":0.08},{"x":3.92,"y":0.06},{"x":3.85,"y":0.05},{"x":3.75,"y":0.05},{"x":3.68,"y":0.06},{"x":3.62,"y":0.08},{"x":3.6,"y":0.09},{"x":3.56,"y":0.07},{"x":3.5,"y":0.06},{"x":3.4,"y":0.06},{"x":3.34,"y":0.08},{"x":3.3,"y":0.12},{"x":3.27,"y":0.2},{"x":3.25,"y":0.23},{"x":3.23,"y":0.18},{"x":3.2,"y":0.1},{"x":3.17,"y":0.07},{"x":3.14,"y":0.07},{"x":3.11,"y":0.1},{"x":3.08,"y":0.12},{"x":3.05,"y":0.08},{"x":3,"y":0.05},{"x":2.9,"y":0.05},{"x":2.8,"y":0.05},{"x":2.7,"y":0.05},{"x":2.6,"y":0.06},{"x":2.5,"y":0.07},{"x":2.45,"y":0.08},{"x":2.4,"y":0.1},{"x":2.35,"y":0.09},{"x":2.3,"y":0.09},{"x":2.25,"y":0.08},{"x":2.2,"y":0.08},{"x":2.15,"y":0.1},{"x":2.1,"y":0.11},{"x":2.06,"y":0.14},{"x":2.03,"y":0.12},{"x":2,"y":0.09},{"x":1.95,"y":0.07},{"x":1.9,"y":0.07},{"x":1.8,"y":0.07},{"x":1.7,"y":0.08},{"x":1.65,"y":0.09},{"x":1.6,"y":0.11},{"x":1.56,"y":0.15},{"x":1.52,"y":0.22},{"x":1.49,"y":0.35},{"x":1.46,"y":0.6},{"x":1.44,"y":1},{"x":1.42,"y":1.25},{"x":1.4,"y":1.37},{"x":1.38,"y":1.35},{"x":1.36,"y":1.45},{"x":1.34,"y":1.9},{"x":1.32,"y":2.3},{"x":1.3,"y":2.2},{"x":1.28,"y":1.6},{"x":1.26,"y":1.05},{"x":1.24,"y":0.7},{"x":1.21,"y":0.45},{"x":1.18,"y":0.32},{"x":1.15,"y":0.26},{"x":1.12,"y":0.25},{"x":1.08,"y":0.28},{"x":1.04,"y":0.35},{"x":1,"y":0.45},{"x":0.96,"y":0.6},{"x":0.92,"y":0.71},{"x":0.9,"y":0.73},{"x":0.88,"y":0.71},{"x":0.85,"y":0.6},{"x":0.82,"y":0.47},{"x":0.78,"y":0.33},{"x":0.74,"y":0.24},{"x":0.7,"y":0.18},{"x":0.64,"y":0.13},{"x":0.58,"y":0.1},{"x":0.5,"y":0.08},{"x":0.4,"y":0.07},{"x":0.3,"y":0.06},{"x":0.26,"y":0.05}],
"t1": [{"x":4.213,"y":1.72,"t":"Cre"},{"x":4.29,"y":2.59,"t":"Glu + Myo"},{"x":3.18,"y":2.78,"t":"Cre"},{"x":3.556,"y":2.085,"t":"PCh"},{"x":2.833,"y":1.27,"t":"Glu"},{"x":1.99,"y":3.11,"t":"NAA"},{"x":1.722,"y":1.64,"t":"Lac+Ala+Lip"}],
"t2": [{"x":3.733,"y":2.565,"t":"PCh"},{"x":4.24,"y":2.03,"t":"Glu+Myo"},{"x":3.143,"y":2.09,"t":"Cre"},{"x":4.33,"y":0.97,"t":"Cre"},{"x":2.765,"y":1.21,"t":"Glu"},{"x":2.327,"y":1.95,"t":"NAA"},{"x":1.857,"y":1.567,"t":"Ala+Lac+Lipd1"},{"x":1.037,"y":1.157,"t":"Lip2"}],
"t3": [{"x":2.819,"y":1.903,"t":"Ala+Lac+Lip1"},{"x":1.003,"y":1.156,"t":"Lip2"},{"x":3.53,"y":0.653,"t":"PCh"},{"x":3.068,"y":0.546,"t":"Cre"}],
"p1": [{"x":3.806,"y":2.413,"x2":3.62,"y2":1.29}]
},
"concat": [
{
 "title": "Normal spectrum", "width": 324, "height": 195,
 "resolve": {"axis": {"x": "independent", "y": "independent"}},
 "layer": [
  {"data": {"name": "a"}, "mark": {"type": "line", "color": "#0000ff", "strokeWidth": 0.7, "clip": true},
   "encoding": {"x": {"field": "x", "type": "quantitative", "scale": {"domain": [0, 4.5], "reverse": true, "nice": false, "zero": false}, "axis": {"values": [4.5,4,3.5,3,2.5,2,1.5,1,0.5,0], "format": "~r", "title": "ppm"}},
                "y": {"field": "y", "type": "quantitative", "scale": {"domain": [0, 3.5], "nice": false}, "axis": {"values": [0,0.5,1,1.5,2,2.5,3,3.5], "format": "~r", "title": null}}}},
  {"data": {"name": "r1"}, "mark": {"type": "line", "color": "#ff0000", "strokeWidth": 2.6, "interpolate": "monotone", "clip": true},
   "encoding": {"x": {"field": "x", "type": "quantitative", "axis": {"orient": "top", "values": [4.5,4,3.5,3,2.5,2,1.5,1,0.5,0], "labels": false, "title": null}},
                "y": {"field": "y", "type": "quantitative", "axis": {"orient": "right", "values": [0,0.5,1,1.5,2,2.5,3,3.5], "labels": false, "title": null}}}},
  {"data": {"name": "p1"}, "mark": {"type": "rule", "color": "#000", "strokeWidth": 1},
   "encoding": {"x": {"field": "x", "type": "quantitative", "axis": null}, "y": {"field": "y", "type": "quantitative", "axis": null}, "x2": {"field": "x2"}, "y2": {"field": "y2"}}},
  {"data": {"name": "t1"}, "mark": {"type": "text", "align": "left", "baseline": "alphabetic"},
   "encoding": {"x": {"field": "x", "type": "quantitative", "axis": null}, "y": {"field": "y", "type": "quantitative", "axis": null}, "text": {"field": "t"}}}
 ]
},
{
 "title": "Tumor spectrum", "width": 324, "height": 195,
 "resolve": {"axis": {"x": "independent", "y": "independent"}},
 "layer": [
  {"data": {"name": "b"}, "mark": {"type": "line", "color": "#0000ff", "strokeWidth": 0.7, "clip": true},
   "encoding": {"x": {"field": "x", "type": "quantitative", "scale": {"domain": [0, 4.5], "reverse": true, "nice": false, "zero": false}, "axis": {"values": [4.5,4,3.5,3,2.5,2,1.5,1,0.5,0], "format": "~r", "title": "ppm"}},
                "y": {"field": "y", "type": "quantitative", "scale": {"domain": [0, 3], "nice": false}, "axis": {"values": [0,0.5,1,1.5,2,2.5,3], "format": "~r", "title": null}}}},
  {"data": {"name": "r2"}, "mark": {"type": "line", "color": "#ff0000", "strokeWidth": 2.6, "interpolate": "monotone", "clip": true},
   "encoding": {"x": {"field": "x", "type": "quantitative", "axis": {"orient": "top", "values": [4.5,4,3.5,3,2.5,2,1.5,1,0.5,0], "labels": false, "title": null}},
                "y": {"field": "y", "type": "quantitative", "axis": {"orient": "right", "values": [0,0.5,1,1.5,2,2.5,3], "labels": false, "title": null}}}},
  {"data": {"name": "t2"}, "mark": {"type": "text", "align": "left", "baseline": "alphabetic"},
   "encoding": {"x": {"field": "x", "type": "quantitative", "axis": null}, "y": {"field": "y", "type": "quantitative", "axis": null}, "text": {"field": "t"}}}
 ]
},
{
 "title": "Necrosis spectrum", "width": 324, "height": 195,
 "resolve": {"axis": {"x": "independent", "y": "independent"}},
 "layer": [
  {"data": {"name": "c"}, "mark": {"type": "line", "color": "#0000ff", "strokeWidth": 0.7, "clip": true},
   "encoding": {"x": {"field": "x", "type": "quantitative", "scale": {"domain": [0, 4.5], "reverse": true, "nice": false, "zero": false}, "axis": {"values": [4.5,4,3.5,3,2.5,2,1.5,1,0.5,0], "format": "~r", "title": "ppm"}},
                "y": {"field": "y", "type": "quantitative", "scale": {"domain": [0, 2.5], "nice": false}, "axis": {"values": [0,0.5,1,1.5,2,2.5], "format": "~r", "title": null}}}},
  {"data": {"name": "r3"}, "mark": {"type": "line", "color": "#ff0000", "strokeWidth": 2.6, "interpolate": "monotone", "clip": true},
   "encoding": {"x": {"field": "x", "type": "quantitative", "axis": {"orient": "top", "values": [4.5,4,3.5,3,2.5,2,1.5,1,0.5,0], "labels": false, "title": null}},
                "y": {"field": "y", "type": "quantitative", "axis": {"orient": "right", "values": [0,0.5,1,1.5,2,2.5], "labels": false, "title": null}}}},
  {"data": {"name": "t3"}, "mark": {"type": "text", "align": "left", "baseline": "alphabetic"},
   "encoding": {"x": {"field": "x", "type": "quantitative", "axis": null}, "y": {"field": "y", "type": "quantitative", "axis": null}, "text": {"field": "t"}}}
 ]
},
{
 "title": "Normal", "width": 324, "height": 195,
 "resolve": {"axis": {"x": "independent", "y": "independent"}},
 "layer": [
  {"data": {"name": "d"}, "mark": {"type": "line", "color": "#0000ff", "strokeWidth": 0.7, "clip": true},
   "encoding": {"x": {"field": "x", "type": "quantitative", "scale": {"domain": [0, 4.5], "reverse": true, "nice": false, "zero": false}, "axis": {"values": [4.5,4,3.5,3,2.5,2,1.5,1,0.5,0], "format": "~r", "title": "ppm"}},
                "y": {"field": "y", "type": "quantitative", "scale": {"domain": [0, 60], "nice": false}, "axis": {"values": [0,10,20,30,40,50,60], "format": "~r", "title": null}}}},
  {"data": {"name": "d"}, "mark": {"type": "line", "strokeOpacity": 0},
   "encoding": {"x": {"field": "x", "type": "quantitative", "axis": {"orient": "top", "values": [4.5,4,3.5,3,2.5,2,1.5,1,0.5,0], "labels": false, "title": null}},
                "y": {"field": "y", "type": "quantitative", "axis": {"orient": "right", "values": [0,10,20,30,40,50,60], "labels": false, "title": null}}}}
 ]
},
{
 "title": "Tumor", "width": 324, "height": 195,
 "resolve": {"axis": {"x": "independent", "y": "independent"}},
 "layer": [
  {"data": {"name": "e"}, "mark": {"type": "line", "color": "#0000ff", "strokeWidth": 0.7, "clip": true},
   "encoding": {"x": {"field": "x", "type": "quantitative", "scale": {"domain": [0, 4.5], "reverse": true, "nice": false, "zero": false}, "axis": {"values": [4.5,4,3.5,3,2.5,2,1.5,1,0.5,0], "format": "~r", "title": "ppm"}},
                "y": {"field": "y", "type": "quantitative", "scale": {"domain": [0, 50], "nice": false}, "axis": {"values": [0,10,20,30,40,50], "format": "~r", "title": null}}}},
  {"data": {"name": "e"}, "mark": {"type": "line", "strokeOpacity": 0},
   "encoding": {"x": {"field": "x", "type": "quantitative", "axis": {"orient": "top", "values": [4.5,4,3.5,3,2.5,2,1.5,1,0.5,0], "labels": false, "title": null}},
                "y": {"field": "y", "type": "quantitative", "axis": {"orient": "right", "values": [0,10,20,30,40,50], "labels": false, "title": null}}}}
 ]
},
{
 "title": "Necrosis", "width": 324, "height": 195,
 "resolve": {"axis": {"x": "independent", "y": "independent"}},
 "layer": [
  {"data": {"name": "f"}, "mark": {"type": "line", "color": "#0000ff", "strokeWidth": 0.7, "clip": true},
   "encoding": {"x": {"field": "x", "type": "quantitative", "scale": {"domain": [0, 4.5], "reverse": true, "nice": false, "zero": false}, "axis": {"values": [4.5,4,3.5,3,2.5,2,1.5,1,0.5,0], "format": "~r", "title": "ppm"}},
                "y": {"field": "y", "type": "quantitative", "scale": {"domain": [0, 100], "nice": false}, "axis": {"values": [0,20,40,60,80,100], "format": "~r", "title": null}}}},
  {"data": {"name": "f"}, "mark": {"type": "line", "strokeOpacity": 0},
   "encoding": {"x": {"field": "x", "type": "quantitative", "axis": {"orient": "top", "values": [4.5,4,3.5,3,2.5,2,1.5,1,0.5,0], "labels": false, "title": null}},
                "y": {"field": "y", "type": "quantitative", "axis": {"orient": "right", "values": [0,20,40,60,80,100], "labels": false, "title": null}}}}
 ]
}
],
"columns": 3,
"spacing": {"row": 85, "column": 52},
"bounds": "flush",
"align": "all"
}
